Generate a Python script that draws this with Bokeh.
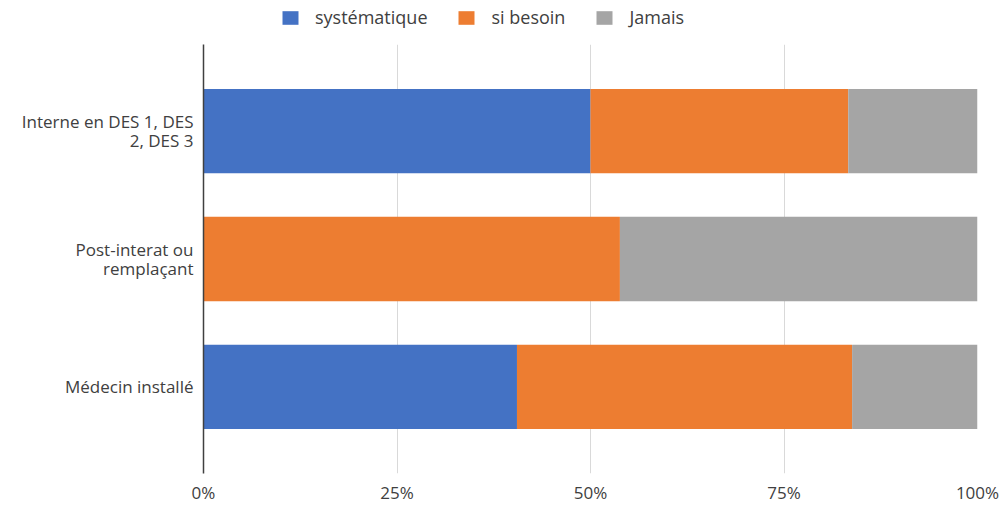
from bokeh.plotting import figure
from bokeh.layouts import column
from bokeh.models import FactorRange, Range1d, FixedTicker, Legend, LegendItem
from bokeh.embed import file_html
from bokeh.resources import INLINE

categories = ["Interne en DES 1, DES\n2, DES 3", "Post-interat ou\nremplaçant", "Médecin installé"]
series = ["systématique", "si besoin", "Jamais"]
systematique = [50.0, 0.0, 40.5]
si_besoin = [33.3, 53.8, 43.3]
jamais = [16.7, 46.2, 16.2]
colors = ["#4472C4", "#ED7D31", "#A5A5A5"]
x_ticks = [0, 25, 50, 75, 100]

vals = [systematique, si_besoin, jamais]

# ---- main chart ----
factors = list(reversed(categories))
p = figure(width=1006, height=462, output_backend="svg", toolbar_location=None,
           y_range=FactorRange(factors=factors, range_padding=0.178, range_padding_units="absolute"),
           x_range=Range1d(0, 100),
           min_border_left=203, min_border_right=29, min_border_top=0, min_border_bottom=28)

left = [0.0] * len(categories)
for name, v, c in zip(series, vals, colors):
    right = [l + x for l, x in zip(left, v)]
    p.hbar(y=categories, left=left, right=right, height=0.66, fill_color=c, line_color=None)
    left = right

p.outline_line_color = None
p.xgrid.ticker = FixedTicker(ticks=x_ticks)
p.xgrid.grid_line_color = "#d9d9d9"
p.xgrid.grid_line_width = 1
p.ygrid.grid_line_color = None

p.xaxis.ticker = FixedTicker(ticks=x_ticks)
p.xaxis.major_label_overrides = {t: f"{t}%" for t in x_ticks}
p.xaxis.axis_line_color = None
p.xaxis.major_tick_line_color = None
p.xaxis.minor_tick_line_color = None
p.xaxis.major_tick_out = 0
p.xaxis.major_label_standoff = 7
p.xaxis.major_label_text_font = "Open Sans"
p.xaxis.major_label_text_font_size = "17px"
p.xaxis.major_label_text_color = "#404040"

p.yaxis.axis_line_color = "#404040"
p.yaxis.axis_line_width = 1.5
p.yaxis.major_tick_line_color = None
p.yaxis.minor_tick_line_color = None
p.yaxis.major_tick_out = 0
p.yaxis.major_label_standoff = 10
p.yaxis.major_label_text_font = "Open Sans"
p.yaxis.major_label_text_font_size = "17px"
p.yaxis.major_label_text_color = "#404040"
p.yaxis.major_label_text_line_height = 0.82

# ---- legend strip (same series, drawn out of view; only the legend shows) ----
lg = figure(width=1006, height=44, output_backend="svg", toolbar_location=None,
            x_axis_type=None, y_axis_type=None, min_border=0,
            x_range=Range1d(0, 100), y_range=Range1d(100, 101))
lg.outline_line_color = None
lg.grid.grid_line_color = None
items = []
left = [0.0] * len(categories)
for name, v, c in zip(series, vals, colors):
    right = [l + x for l, x in zip(left, v)]
    r = lg.hbar(y=list(range(len(categories))), left=left, right=right, height=0.66,
                fill_color=c, line_color=None)
    items.append(LegendItem(label=name, renderers=[r]))
    left = right
legend = Legend(items=items, orientation="horizontal", location=(77, 15),
                glyph_width=20, glyph_height=17, label_standoff=15, spacing=29,
                padding=0, margin=0, border_line_color=None, background_fill_alpha=0,
                label_text_font="Open Sans", label_text_font_size="18px",
                label_text_color="#404040")
lg.add_layout(legend, "center")

layout = column(lg, p, spacing=0)
open("out.html", "w").write(file_html(layout, INLINE))
